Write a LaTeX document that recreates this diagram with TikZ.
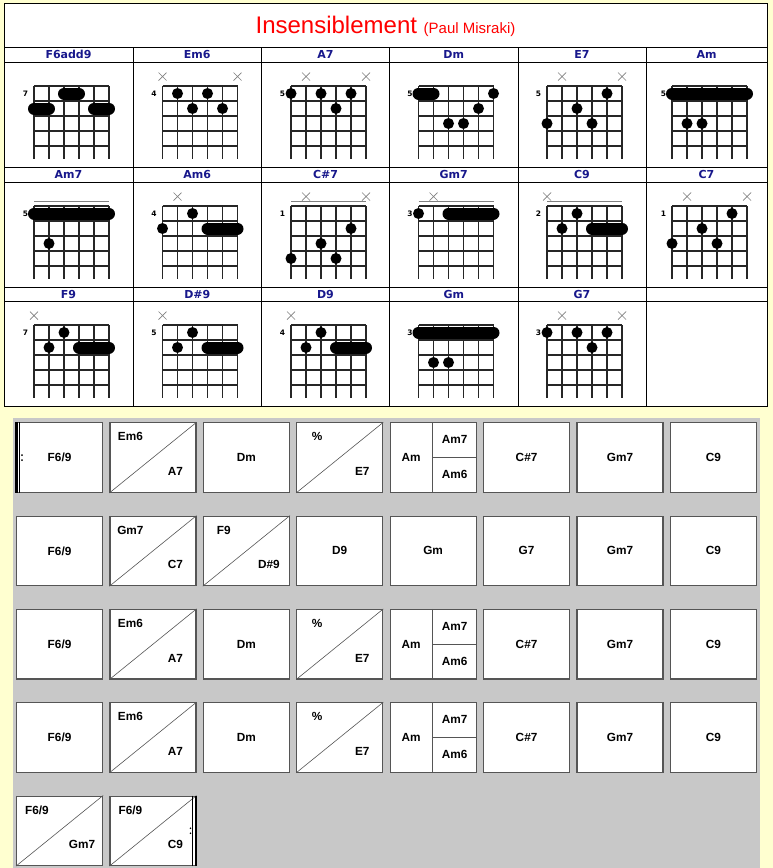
\documentclass[tikz,border=0pt]{standalone}
\usepackage{fontspec}
\setmainfont{Liberation Sans}
\newfontfamily\headfont{DejaVu Sans}

\definecolor{paper}{RGB}{255,255,208}
\definecolor{panel}{RGB}{200,200,200}
\definecolor{chordblue}{RGB}{24,24,140}
\definecolor{boxline}{RGB}{85,85,85}

% [muted strings]{left}{top}{fret}{fingers: from/to/fret}
\newcommand{\chordgrid}[5][]{%
  \begin{scope}[shift={(#2,#3)}]
    \foreach \s in {0,...,5} \draw[gridline] (\s*15,0) -- (\s*15,73);
    \foreach \f in {0,...,4} \draw[gridline] (0,\f*15) -- (75,\f*15);
    \node[fretno] at (-8.5,7.5) {#4};
    \if\relax\detokenize{#1}\relax\else
      \foreach \m in {#1} \draw[mute] (\m*15-19,-13.5) -- ++(8,8) (\m*15-19,-5.5) -- ++(8,-8);
    \fi
    \foreach \a/\b/\f in {#5}{
      \ifnum\a=\b \fill (\a*15-15,\f*15-7.5) circle (5.5);
      \else \draw[finger] (\a*15-15,\f*15-7.5) -- (\b*15-15,\f*15-7.5); \fi}
  \end{scope}}

\newcommand{\onebox}[3]{%
  \node[barbox] (b#1#2) at ({16+93.4*#1},{422.3+93.3*#2}) {};
  \node[chordname] at (b#1#2.center) {#3};}

\newcommand{\twobox}[4]{%
  \node[barbox] (b#1#2) at ({16+93.4*#1},{422.3+93.3*#2}) {};
  \draw[slash] (b#1#2.south west) -- (b#1#2.north east);
  \node[chordname] at ([shift={(21,14.5)}]b#1#2.north west) {#3};
  \node[chordname] at ([shift={(-21,-21.5)}]b#1#2.south east) {#4};}

\newcommand{\threebox}[5]{%
  \node[barbox] (b#1#2) at ({16+93.4*#1},{422.3+93.3*#2}) {};
  \draw[boxline, line width=0.9pt] ([xshift=43.3pt]b#1#2.north west) -- ([xshift=43.3pt]b#1#2.south west)
    ([xshift=43.3pt]b#1#2.west) -- (b#1#2.east);
  \node[chordname] at ([xshift=21.5pt]b#1#2.west) {#3};
  \node[chordname] at ([shift={(-22,17.5)}]b#1#2.north east) {#4};
  \node[chordname] at ([shift={(-22,-18)}]b#1#2.south east) {#5};}

\newcommand{\mainrow}[1]{%
  \onebox{0}{#1}{F6/9}
  \twobox{1}{#1}{Em6}{A7}
  \onebox{2}{#1}{Dm}
  \twobox{3}{#1}{\%}{E7}
  \threebox{4}{#1}{Am}{Am7}{Am6}
  \onebox{5}{#1}{C\#7}
  \onebox{6}{#1}{Gm7}
  \onebox{7}{#1}{C9}}

\begin{document}
\begin{tikzpicture}[x=1pt, y=-1pt,
  gridline/.style={draw=black!85, line width=1.1pt},
  mute/.style={draw=black!50, line width=0.7pt},
  finger/.style={line width=12pt, line cap=round},
  fretno/.style={font=\headfont\fontsize{7.5}{8}\selectfont\bfseries, inner sep=0pt},
  header/.style={font=\headfont\fontsize{11}{12}\selectfont\bfseries, text=chordblue, inner sep=0pt},
  chartline/.style={draw=black, line width=1pt},
  barbox/.style={draw=boxline, fill=white, line width=1.1pt, minimum width=86pt, minimum height=69.5pt, anchor=north west, inner sep=0pt},
  slash/.style={draw=boxline, line width=0.6pt},
  chordname/.style={font=\fontsize{11.8}{12}\selectfont\bfseries, inner sep=0pt}]

\fill[paper] (0,0) rectangle (773,868);
\useasboundingbox (0,0) rectangle (773,868);

% chord chart
\draw[chartline, fill=white] (4,3) rectangle (767,406);
\foreach \y in {47,62,167,182,287,301} \draw[chartline] (4,\y) -- (767,\y);
\foreach \x in {133,261.5,389.5,518,646} \draw[chartline] (\x,47) -- (\x,406);
\node[anchor=base, text=red, font=\fontsize{24}{28}\selectfont] (title) at (385.5,33.3)
  {Insensiblement {\fontsize{15}{18}\selectfont(Paul Misraki)}};

\foreach \cx/\n in {68.5/F6add9, 197.25/Em6, 325.5/A7, 453.75/Dm, 582/E7, 706.5/Am}
  \node[header] at (\cx,54.5) {\n};
\foreach \cx/\n in {68.5/Am7, 197.25/Am6, 325.5/C\#7, 453.75/Gm7, 582/C9, 706.5/C7}
  \node[header] at (\cx,174.5) {\n};
\foreach \cx/\n in {68.5/F9, 197.25/D\#9, 325.5/D9, 453.75/Gm, 582/G7}
  \node[header] at (\cx,294) {\n};

\chordgrid{34}{86}{7}{3/4/1, 1/2/2, 5/6/2}
\chordgrid[1,6]{162.5}{86}{4}{2/2/1, 4/4/1, 3/3/2, 5/5/2}
\chordgrid[2,6]{291}{86}{5}{1/1/1, 3/3/1, 5/5/1, 4/4/2}
\chordgrid{418.5}{86}{5}{1/2/1, 6/6/1, 5/5/2, 3/3/3, 4/4/3}
\chordgrid[2,6]{547}{86}{5}{5/5/1, 3/3/2, 1/1/3, 4/4/3}
\chordgrid{672}{86}{5}{1/6/1, 2/2/3, 3/3/3}

\foreach \x in {34,291,418.5,547} \draw[mute] (\x,201.5) -- (\x+75,201.5);
\chordgrid{34}{206}{5}{1/6/1, 2/2/3}
\chordgrid[2]{162.5}{206}{4}{3/3/1, 1/1/2, 4/6/2}
\chordgrid[2,6]{291}{206}{1}{5/5/2, 3/3/3, 1/1/4, 4/4/4}
\chordgrid[2]{418.5}{206}{3}{1/1/1, 3/6/1}
\chordgrid[1]{547}{206}{2}{3/3/1, 2/2/2, 4/6/2}
\chordgrid[2,6]{672}{206}{1}{5/5/1, 3/3/2, 1/1/3, 4/4/3}

\chordgrid[1]{34}{325}{7}{3/3/1, 2/2/2, 4/6/2}
\chordgrid[1]{162.5}{325}{5}{3/3/1, 2/2/2, 4/6/2}
\chordgrid[1]{291}{325}{4}{3/3/1, 2/2/2, 4/6/2}
\chordgrid{418.5}{325}{3}{1/6/1, 2/2/3, 3/3/3}
\chordgrid[2,6]{547}{325}{3}{1/1/1, 3/3/1, 5/5/1, 4/4/2}

% grid of bars
\fill[panel] (13,418) rectangle (760,868);
\mainrow{0}
\onebox{0}{1}{F6/9}
\twobox{1}{1}{Gm7}{C7}
\twobox{2}{1}{F9}{D\#9}
\onebox{3}{1}{D9}
\onebox{4}{1}{Gm}
\onebox{5}{1}{G7}
\onebox{6}{1}{Gm7}
\onebox{7}{1}{C9}
\mainrow{2}
\mainrow{3}
\twobox{0}{4}{F6/9}{Gm7}
\twobox{1}{4}{F6/9}{C9}

% repeat signs
\fill ([xshift=-0.6pt]b00.north west) rectangle ([xshift=1.8pt]b00.south west);
\draw[line width=0.7pt] ([xshift=3.8pt]b00.north west) -- ([xshift=3.8pt]b00.south west);
\fill ([shift={(6,-2.5)}]b00.west) circle (0.9) ([shift={(6,2.5)}]b00.west) circle (0.9);
\fill ([xshift=-1.8pt]b14.north east) rectangle ([xshift=0.6pt]b14.south east);
\draw[line width=0.7pt] ([xshift=-3.8pt]b14.north east) -- ([xshift=-3.8pt]b14.south east);
\fill ([shift={(-6,-2.5)}]b14.east) circle (0.9) ([shift={(-6,2.5)}]b14.east) circle (0.9);
\end{tikzpicture}
\end{document}
